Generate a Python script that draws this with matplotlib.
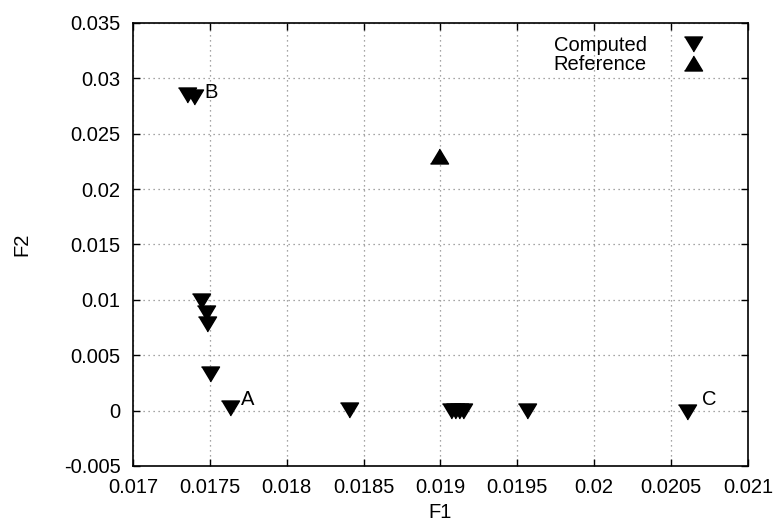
import matplotlib
matplotlib.use('Agg')
import matplotlib.pyplot as plt
from matplotlib.ticker import MultipleLocator, FuncFormatter

plt.rcParams['font.family'] = ['Liberation Sans', 'DejaVu Sans']

# computed points (F1, F2)
comp_f1 = [0.017351, 0.017397, 0.017445, 0.017478, 0.017484, 0.017504, 0.017634,
           0.018402, 0.019067, 0.019093, 0.019119, 0.019145, 0.019565, 0.020606]
comp_f2 = [0.0285, 0.0283, 0.00986, 0.00883, 0.00784, 0.00329, 0.00027,
           0.0001, 0.0, 0.0, 0.0, 0.0, 0.0, -0.0001]

# reference point
ref_f1 = [0.018992]
ref_f2 = [0.02297]

# point labels
lab_text = ['A', 'B', 'C']
lab_x = [0.017702, 0.017462, 0.0207]
lab_y = [0.001, 0.02874, 0.001]

down_tri = [(-1, 0.83), (1, 0.83), (0, -0.83)]
up_tri = [(-1, -0.83), (1, -0.83), (0, 0.83)]

fs = 14.5

fig = plt.figure(figsize=(7.74, 5.26), dpi=100)
ax = fig.add_axes([0.1718, 0.1141, 0.7946, 0.8422])

ax.plot(comp_f1, comp_f2, linestyle='none', marker=down_tri, markersize=13,
        color='black', label='Computed')
ax.plot(ref_f1, ref_f2, linestyle='none', marker=up_tri, markersize=13,
        color='black', label='Reference')

for t, x, y in zip(lab_text, lab_x, lab_y):
    ax.text(x, y, t, fontsize=fs, ha='left', va='center')

ax.set_xlim(0.017, 0.021)
ax.set_ylim(-0.005, 0.035)
ax.xaxis.set_major_locator(MultipleLocator(0.0005))
ax.yaxis.set_major_locator(MultipleLocator(0.005))
fmt = FuncFormatter(lambda v, p: '%g' % round(v, 6))
ax.xaxis.set_major_formatter(fmt)
ax.yaxis.set_major_formatter(fmt)

ax.tick_params(direction='in', top=True, right=True, length=5, width=1.0,
               labelsize=fs)
ax.tick_params(axis='x', pad=9)
ax.tick_params(axis='y', pad=9)
ax.grid(True, color='#888888', linestyle=(0, (1, 3)), linewidth=0.9)
for s in ax.spines.values():
    s.set_linewidth(1.2)

ax.set_xlabel('F1', fontsize=fs, labelpad=4)
ax.set_ylabel('F2', fontsize=fs, labelpad=23)

leg = ax.legend(loc='upper right', bbox_to_anchor=(0.9268, 0.97), frameon=False,
                markerfirst=False, fontsize=fs, handlelength=1.0, handletextpad=1.8,
                labelspacing=0.0, borderaxespad=0.0, borderpad=0.0)

fig.savefig('out.png', dpi=100)
